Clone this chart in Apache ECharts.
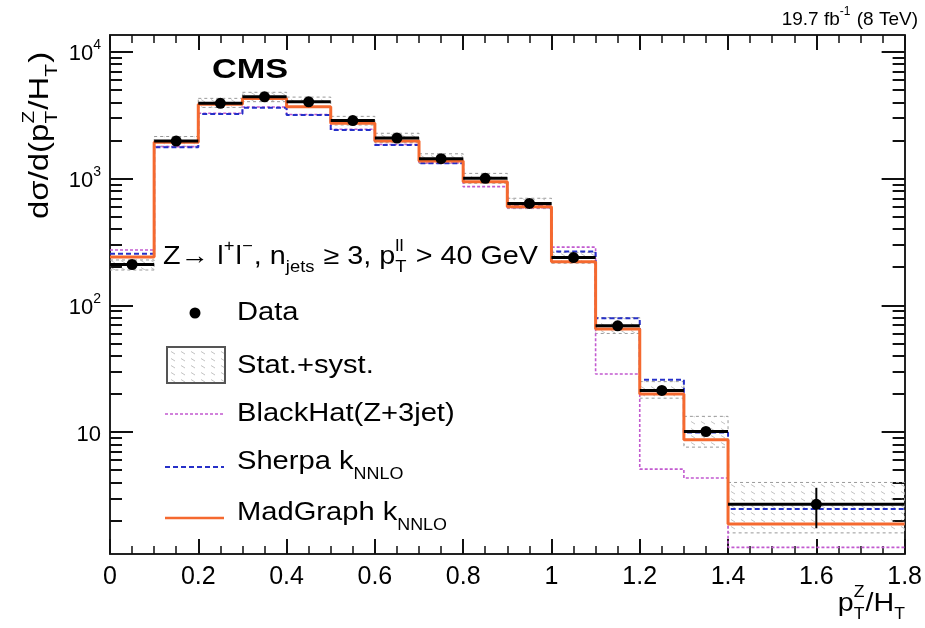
<!DOCTYPE html>
<html>
<head>
<meta charset="utf-8">
<script src="https://cdn.jsdelivr.net/npm/echarts@6/dist/echarts.min.js"></script>
<style>html,body{margin:0;padding:0;background:#fff}#c{width:925px;height:628px}</style>
</head>
<body>
<div id="c"></div>
<script>
// ---- data ----
const binEdges = [0, 0.1, 0.2, 0.3, 0.4, 0.5, 0.6, 0.7, 0.8, 0.9, 1.0, 1.1, 1.2, 1.3, 1.4, 1.8];
const dataValues = [210, 1980, 3930, 4420, 4040, 2870, 2090, 1436, 1006, 637, 238, 68.9, 21.3, 10.1, 2.69];
const dataErrLow = [204, 1950, 3880, 4360, 3980, 2830, 2060, 1415, 990, 626, 233, 66.5, 20.0, 9.3, 1.74];
const dataErrHigh = [216, 2010, 3980, 4480, 4100, 2910, 2120, 1457, 1022, 648, 243, 71.5, 22.6, 10.9, 3.63];
const bandLow = [190, 1800, 3650, 4050, 3680, 2650, 1920, 1320, 920, 580, 215, 60, 18.5, 7.6, 1.6];
const bandHigh = [228, 2150, 4300, 4800, 4400, 3100, 2280, 1570, 1100, 700, 262, 80, 25, 13.3, 4.0];
const madgraph = [241, 1940, 3860, 4280, 3700, 2730, 1982, 1377, 946, 601, 221, 64.9, 20.0, 8.7, 1.88];
const sherpa = [255, 1768, 3235, 3625, 3175, 2420, 1842, 1321, 940, 610, 266, 79, 25.9, 9.9, 2.47];
const blackhat = [273, 1790, 3280, 3680, 3210, 2450, 1860, 1330, 864, 590, 288, 28.7, 5.1, 4.34, 1.23];
const xTicks = [0, 0.2, 0.4, 0.6, 0.8, 1, 1.2, 1.4, 1.6, 1.8];
const yMajorTicks = [10, 100, 1000, 10000];
const yMinorTicks = [2,3,4,5,6,7,8,9,20,30,40,50,60,70,80,90,200,300,400,500,600,700,800,900,2000,3000,4000,5000,6000,7000,8000,9000];
const yMin = 1.09, yMax = 13600;

const FONT = '"Liberation Sans", Arial, Helvetica, sans-serif';

// step data
function stepData(vals) {
  const d = vals.map((v, i) => [binEdges[i], v]);
  d.push([binEdges[binEdges.length - 1], vals[vals.length - 1]]);
  return d;
}

// hatch pattern
const pc = document.createElement('canvas');
pc.width = 10; pc.height = 7;
const pctx = pc.getContext('2d');
pctx.strokeStyle = 'rgba(120,120,120,0.45)';
pctx.lineWidth = 1;
pctx.beginPath(); pctx.moveTo(1, 1.5); pctx.lineTo(5, 4); pctx.stroke();
const hatch = { image: pc, repeat: 'repeat' };

// math-like text helper
const mctx = document.createElement('canvas').getContext('2d');
function measure(t, size, weight) {
  mctx.font = (weight || 'normal') + ' ' + size + 'px ' + FONT;
  return mctx.measureText(t).width;
}
function txt(t, x, y, size, weight, extra) {
  return Object.assign({
    type: 'text', x: x, y: y,
    style: { text: t, font: (weight || 'normal') + ' ' + size + 'px ' + FONT, fill: '#000',
      align: 'left', textAlign: 'left', verticalAlign: 'middle', textVerticalAlign: 'middle' }
  }, extra || {});
}
function mathGroup(parts, size, sx, subFactor) {
  const children = [];
  let x = 0;
  const s = Math.round(size * 0.62);
  const sf = subFactor || 0.42;
  parts.forEach(p => {
    if (typeof p === 'string') {
      children.push(txt(p, x, 0, size));
      x += measure(p, size);
    } else {
      let w = 0;
      if (p.sup) { children.push(txt(p.sup, x, -size * 0.42, s)); w = Math.max(w, measure(p.sup, s)); }
      if (p.sub) { children.push(txt(p.sub, x, size * sf, s)); w = Math.max(w, measure(p.sub, s)); }
      x += w + 1;
    }
  });
  return { g: { type: 'group', children: children, scaleX: sx || 1 }, w: x * (sx || 1) };
}

const chart = echarts.init(document.getElementById('c'), null, { renderer: 'canvas' });

const grid = { left: 110, right: 17, top: 35, bottom: 74 };

function xAxisDef(pos, showLabel) {
  return {
    type: 'value', position: pos, min: 0, max: 1.8, interval: 0.2,
    axisLine: { show: true, onZero: false, lineStyle: { color: '#222', width: 2 } },
    axisTick: { show: true, inside: true, length: 15, lineStyle: { color: '#111', width: 2 } },
    minorTick: { show: true, splitNumber: 4, length: 8, lineStyle: { color: '#111', width: 1.5 } },
    axisLabel: { show: showLabel, margin: 11, color: '#000', fontFamily: FONT, fontSize: 25,
      customValues: xTicks, formatter: v => String(+v.toFixed(1)) },
    splitLine: { show: false }, minorSplitLine: { show: false }
  };
}
function yAxisDef(pos, major, showLabel, showLine) {
  return {
    type: 'log', logBase: 10, position: pos, min: yMin, max: yMax,
    axisLine: { show: showLine, onZero: false, lineStyle: { color: '#222', width: 2 } },
    axisTick: { show: true, inside: true, length: major ? 23 : 12,
      customValues: major ? yMajorTicks : yMinorTicks, lineStyle: { color: '#111', width: 2 } },
    axisLabel: { show: showLabel, customValues: yMajorTicks, margin: 9, color: '#000', fontFamily: FONT,
      formatter: v => { const e = Math.round(Math.log10(v)); return e === 1 ? '{b|10}' : '{b|10}{s|' + e + '}'; },
      rich: { b: { fontSize: 22, fontFamily: FONT, color: '#000', lineHeight: 27, verticalAlign: 'bottom' },
              s: { fontSize: 14, fontFamily: FONT, color: '#000', lineHeight: 27, verticalAlign: 'top' } } },
    splitLine: { show: false }
  };
}

const option = {
  animation: false,
  backgroundColor: '#fff',
  grid: grid,
  xAxis: [xAxisDef('bottom', true), xAxisDef('top', false)],
  yAxis: [yAxisDef('left', true, true, true), yAxisDef('left', false, false, false),
          yAxisDef('right', true, false, true), yAxisDef('right', false, false, false)],
  series: [
    {
      type: 'custom', name: 'band', xAxisIndex: 0, yAxisIndex: 0, clip: true, z: 1,
      data: bandLow.map((lo, i) => [binEdges[i], binEdges[i + 1], lo, bandHigh[i]]),
      encode: { x: [0, 1], y: [2, 3] },
      renderItem: (params, api) => {
        const a = api.coord([api.value(0), api.value(3)]);
        const b = api.coord([api.value(1), api.value(2)]);
        return { type: 'rect', shape: { x: a[0], y: a[1], width: b[0] - a[0], height: b[1] - a[1] },
          style: { fill: hatch, stroke: '#999', lineWidth: 1, lineDash: [3, 3] } };
      }
    },
    { type: 'line', name: 'BlackHat', step: 'end', showSymbol: false, data: stepData(blackhat), z: 3,
      lineStyle: { color: '#c25ad0', width: 1.6, type: [3, 2] } },
    { type: 'line', name: 'Sherpa', step: 'end', showSymbol: false, data: stepData(sherpa), z: 4,
      lineStyle: { color: '#2630c8', width: 2, type: [5, 3] } },
    { type: 'line', name: 'MadGraph', step: 'end', showSymbol: false, data: stepData(madgraph), z: 5,
      lineStyle: { color: '#f5692f', width: 3 } },
    {
      type: 'custom', name: 'Data', xAxisIndex: 0, yAxisIndex: 0, clip: true, z: 10,
      data: dataValues.map((v, i) => [binEdges[i], binEdges[i + 1], v, dataErrLow[i], dataErrHigh[i]]),
      encode: { x: [0, 1], y: [2, 3, 4] },
      renderItem: (params, api) => {
        const x0 = api.value(0), x1 = api.value(1), xm = (x0 + x1) / 2;
        const p0 = api.coord([x0, api.value(2)]);
        const p1 = api.coord([x1, api.value(2)]);
        const pm = api.coord([xm, api.value(2)]);
        const el = api.coord([xm, api.value(3)]);
        const eh = api.coord([xm, api.value(4)]);
        return { type: 'group', children: [
          { type: 'line', shape: { x1: p0[0], y1: p0[1], x2: p1[0], y2: p1[1] }, style: { stroke: '#000', lineWidth: 3 } },
          { type: 'line', shape: { x1: el[0], y1: el[1], x2: eh[0], y2: eh[1] }, style: { stroke: '#000', lineWidth: 2 } },
          { type: 'circle', shape: { cx: pm[0], cy: pm[1], r: 5.5 }, style: { fill: '#000' } }
        ] };
      }
    }
  ],
  graphic: []
};

// texts
const G = [];
G.push(txt('CMS', 212, 71, 27, 'bold', { scaleX: 1.27 }));
// top right lumi label
(function () {
  const m = mathGroup(['19.7 fb', { sup: '-1' }, ' (8 TeV)'], 19, 1.0);
  m.g.x = 918 - m.w; m.g.y = 20; G.push(m.g);
})();
// selection text
(function () {
  const m = mathGroup(['Z\u2192 l', { sup: '+' }, 'l', { sup: '\u2212' }, ', n', { sub: 'jets' }, ' \u2265 3, p', { sup: 'll', sub: 'T' }, ' > 40 GeV'], 25, 1.15);
  m.g.x = 163; m.g.y = 257; G.push(m.g);
})();
// legend
const LS = 26, LX = 1.12;
G.push({ type: 'circle', shape: { cx: 195, cy: 313, r: 5.5 }, style: { fill: '#000' } });
G.push(txt('Data', 237, 313, LS, null, { scaleX: LX }));
G.push({ type: 'rect', shape: { x: 167, y: 347, width: 58, height: 36 }, style: { fill: hatch, stroke: '#555', lineWidth: 2 } });
G.push(txt('Stat.+syst.', 237, 366, LS, null, { scaleX: LX }));
G.push({ type: 'line', shape: { x1: 165, y1: 414, x2: 224, y2: 414 }, style: { stroke: '#c25ad0', lineWidth: 1.6, lineDash: [3, 2] } });
G.push(txt('BlackHat(Z+3jet)', 237, 414, LS, null, { scaleX: LX }));
G.push({ type: 'line', shape: { x1: 165, y1: 467, x2: 224, y2: 467 }, style: { stroke: '#2630c8', lineWidth: 2, lineDash: [5, 3] } });
(function () { const m = mathGroup(['Sherpa k', { sub: 'NNLO' }], LS, LX, 0.5); m.g.x = 237; m.g.y = 462; G.push(m.g); })();
G.push({ type: 'line', shape: { x1: 165, y1: 518, x2: 224, y2: 518 }, style: { stroke: '#f5692f', lineWidth: 2.5 } });
(function () { const m = mathGroup(['MadGraph k', { sub: 'NNLO' }], LS, LX, 0.5); m.g.x = 237; m.g.y = 513; G.push(m.g); })();
// x axis title
(function () {
  const m = mathGroup(['p', { sup: 'Z', sub: 'T' }, '/H', { sub: 'T' }], 26, 1.1);
  m.g.x = 906 - m.w; m.g.y = 604; G.push(m.g);
})();
// y axis title (rotated)
(function () {
  const m = mathGroup(['d\u03c3/d(p', { sup: 'Z', sub: 'T' }, '/H', { sub: 'T' }, ')'], 27, 1.22);
  m.g.x = 41; m.g.y = 219; m.g.rotation = Math.PI / 2; G.push(m.g);
})();
option.graphic = G;

chart.setOption(option);
</script>
</body>
</html>
